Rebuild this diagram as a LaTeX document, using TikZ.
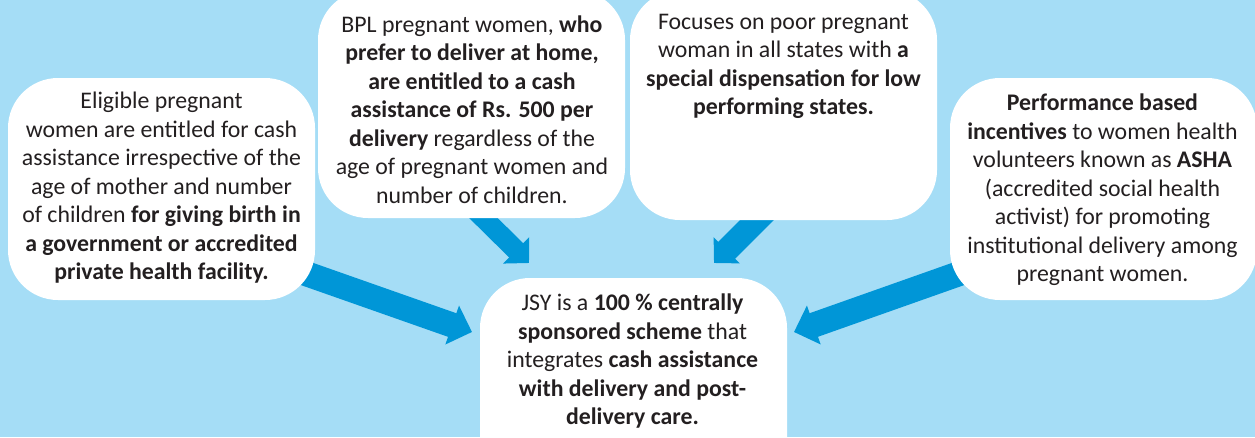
\documentclass[tikz,border=0pt]{standalone}
\usepackage{fontspec}
\setmainfont{Carlito}
\usetikzlibrary{arrows.meta}
\definecolor{bgblue}{HTML}{A5DDF6}
\definecolor{arrblue}{HTML}{0096D7}
\definecolor{txt}{HTML}{231F20}
\pgfdeclarelayer{bglayer}
\pgfdeclarelayer{arrlayer}
\pgfsetlayers{bglayer,arrlayer,main}
\begin{document}
\begin{tikzpicture}[x=1pt,y=-1pt,
  box/.style={draw=none, fill=white, rounded corners=50pt, minimum width=307pt, inner sep=0pt},
  txtnode/.style={text=txt, align=center, inner sep=0pt, font=\fontsize{23.8pt}{28.5pt}\selectfont},
  bigarr/.style={line width=25pt, draw=arrblue, -{Triangle[length=21pt,width=40pt]}},
  smallarr/.style={line width=22pt, draw=arrblue, -{Triangle[length=18pt,width=36pt]}}]
\useasboundingbox (0,0) rectangle (1255,437);
\begin{pgfonlayer}{bglayer}
  \fill[bgblue] (0,0) rectangle (1255,437);
\end{pgfonlayer}
% boxes
\node[box, minimum height=222pt] (b1) at (161.5,189) {};
\node[box, minimum height=228pt] (b2) at (471.5,104) {};
\node[box, minimum height=230pt] (b3) at (783.5,105) {};
\node[box, minimum height=222pt] (b4) at (1103.5,189) {};
\node[box, minimum height=222pt] (c) at (633.5,389) {};
% arrows
\coordinate (a1s) at (290,268); \coordinate (a1t) at (472,332);
\coordinate (a2s) at (455,190); \coordinate (a2t) at (529,263);
\coordinate (a3s) at (790,187); \coordinate (a3t) at (714,263);
\coordinate (a4s) at (975,268); \coordinate (a4t) at (794,332);
\begin{pgfonlayer}{arrlayer}
  \draw[bigarr] (a1s) -- (a1t);
  \draw[smallarr, line width=20pt] (a2s) -- (a2t);
  \draw[smallarr, line width=24pt] (a3s) -- (a3t);
  \draw[bigarr] (a4s) -- (a4t);
\end{pgfonlayer}
% texts
\node[txtnode] (t1) at (161.5,188) {Eligible pregnant\\
women are entitled for cash\\
assistance irrespective of the\\
age of mother and number\\
of children \textbf{for giving birth in}\\
\textbf{a government or accredited}\\
\textbf{private health facility.}};
\node[txtnode] (t2) at (472,109.5) {BPL pregnant women, \textbf{who}\\
\textbf{prefer to deliver at home,}\\
\textbf{are entitled to a cash}\\
\textbf{assistance of Rs. 500 per}\\
\textbf{delivery} regardless of the\\
age of pregnant women and\\
number of children.};
\node[txtnode] (t3) at (783.5,66.5) {Focuses on poor pregnant\\
woman in all states with \textbf{a}\\
\textbf{special dispensation for low}\\
\textbf{performing states.}};
\node[txtnode] (t4) at (1102.5,190) {\textbf{Performance based}\\
\textbf{incentives} to women health\\
volunteers known as \textbf{ASHA}\\
(accredited social health\\
activist) for promoting\\
institutional delivery among\\
pregnant women.};
\node[txtnode] (t5) at (632.5,361.5) {JSY is a \textbf{100 \% centrally}\\
\textbf{sponsored scheme} that\\
integrates \textbf{cash assistance}\\
\textbf{with delivery and post-}\\
\textbf{delivery care.}};
\end{tikzpicture}
\end{document}
